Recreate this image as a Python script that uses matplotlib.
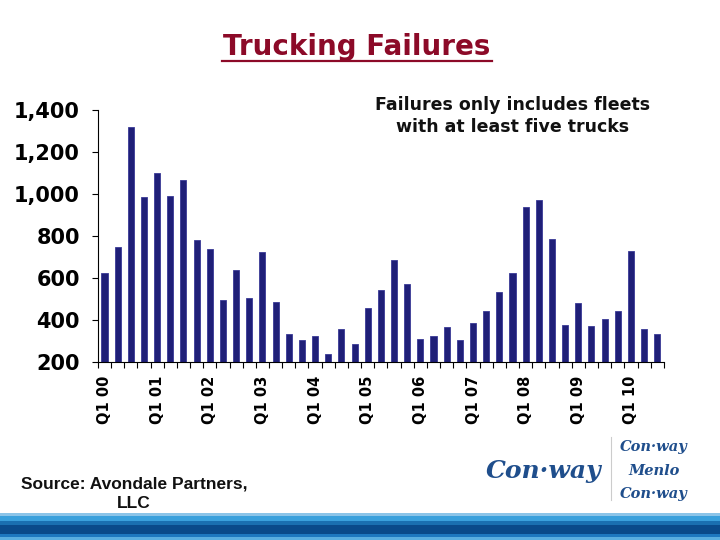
import matplotlib.pyplot as plt
import numpy as np

# quarterly trucking failures, Q1 2000 .. Q3 2010
failures = [622, 748, 1319, 986, 1100, 990, 1067, 781, 737, 495,
            638, 505, 724, 486, 333, 306, 322, 236, 355, 286,
            456, 541, 686, 571, 311, 325, 367, 305, 386, 443,
            533, 624, 938, 970, 784, 376, 482, 373, 405, 443,
            730, 355, 332]
years = ['00', '01', '02', '03', '04', '05', '06', '07', '08', '09', '10']
tick_labels = ['Q1 ' + y for y in years]
yticks = [200, 400, 600, 800, 1000, 1200, 1400]

fig = plt.figure(figsize=(7.2, 5.4), dpi=100)
ax = fig.add_axes([0.136, 0.3296, 0.786, 0.4667])

x = np.arange(len(failures))
ax.bar(x, failures, width=0.46, bottom=0, color='#1f1f78', edgecolor='#3a3a96', linewidth=0.6)
ax.set_xlim(-0.5, len(failures) - 0.5)
ax.set_ylim(200, 1400)

ax.set_yticks(yticks)
ax.set_yticklabels([f'{v:,}' for v in yticks], fontsize=15, fontweight='bold')
ax.tick_params(axis='y', length=4, width=0.8, pad=9)

# labels under every Q1, small ticks at bar boundaries
ax.set_xticks(x[::4])
ax.set_xticklabels(tick_labels, rotation=90, fontsize=10.5, fontweight='bold')
ax.set_xticks(np.arange(-0.5, len(failures), 1), minor=True)
ax.tick_params(axis='x', which='major', length=0, pad=10)
ax.tick_params(axis='x', which='minor', length=4, width=0.8, direction='out')

for s in ['top', 'right']:
    ax.spines[s].set_visible(False)
ax.spines['left'].set_linewidth(0.8)
ax.spines['bottom'].set_linewidth(0.8)

fig.text(0.7125, 0.822, 'Failures only includes fleets\nwith at least five trucks',
         ha='center', va='top', fontsize=12.5, fontweight='semibold',
         linespacing=1.25, color='#111111')

# title with underline
fig.text(0.496, 0.913, 'Trucking Failures', ha='center', va='center',
         fontsize=20, fontweight='bold', color='#8c0a28')
fig.add_artist(plt.Line2D([0.308, 0.684], [0.887, 0.887], color='#8c0a28', lw=1.6))

fig.text(0.186, 0.085, 'Source: Avondale Partners,\nLLC', ha='center', va='center',
         fontsize=12.5, fontweight='bold', family='Liberation Sans', linespacing=1.4,
         color='#111111')

# logo block
fig.text(0.755, 0.128, 'Con·way', ha='center', va='center', fontsize=18,
         fontweight='bold', style='italic', color='#1f4e8c', family='DejaVu Serif')
fig.add_artist(plt.Line2D([0.848, 0.848], [0.075, 0.19], color='#cccccc', lw=0.8))
for yy, txt in [(0.172, 'Con·way'), (0.128, 'Menlo'), (0.085, 'Con·way')]:
    fig.text(0.908, yy, txt, ha='center', va='center', fontsize=10.5,
             fontweight='bold', style='italic', color='#1f4e8c', family='DejaVu Serif')

# stripes at the bottom
stripes = [(0.0, 0.006, '#5aaee0'), (0.006, 0.012, '#1e78c0'), (0.012, 0.028, '#0a4a8a'),
           (0.028, 0.036, '#1a6fb0'), (0.036, 0.044, '#3aa0dc'), (0.044, 0.05, '#8cc4e8')]
for y0, y1, c in stripes:
    fig.add_artist(plt.Rectangle((0, y0), 1, y1 - y0, color=c, transform=fig.transFigure, lw=0))

fig.savefig('out.png', dpi=100)
